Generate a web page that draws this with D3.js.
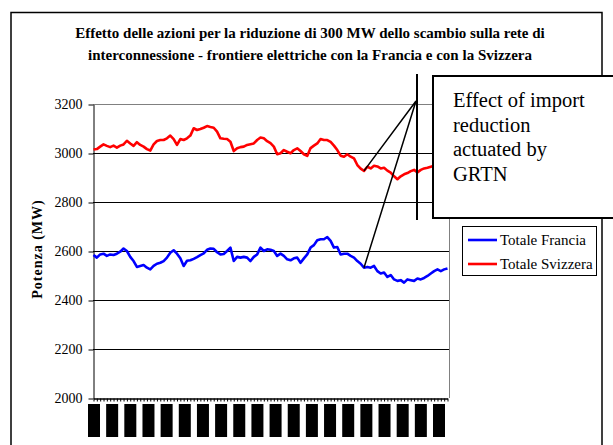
<!DOCTYPE html>
<meta charset="utf-8">
<style>

body {
  margin: 0;
  background: #fff;
}

text {
  font-family: "Liberation Serif", "Times New Roman", serif;
}

</style>
<svg id="chart" width="613" height="445"></svg>
<script src="https://d3js.org/d3.v7.min.js"></script>
<script>

// Readings, one value every ~3.3 px of the time axis.
var francia = [
  2584, 2573, 2586, 2589, 2580, 2586, 2584, 2589, 2597, 2610, 2600, 2576, 2559, 2535, 2539, 2543, 2532, 2525, 2539, 2548, 2552, 2559, 2573, 2593, 2603, 2589, 2570,
  2539, 2560, 2562, 2568, 2575, 2583, 2590, 2605, 2610, 2609, 2595, 2586, 2588, 2600, 2614, 2559, 2576, 2573, 2576, 2573, 2559, 2576, 2586, 2614, 2600, 2607, 2605,
  2600, 2580, 2589, 2580, 2566, 2562, 2570, 2573, 2552, 2570, 2586, 2614, 2624, 2644, 2648, 2648, 2657, 2641, 2614, 2616, 2586, 2589, 2589, 2580, 2573, 2559, 2548,
  2532, 2535, 2532, 2539, 2518, 2508, 2512, 2494, 2502, 2484, 2478, 2481, 2471, 2484, 2481, 2478, 2488, 2484, 2490, 2498, 2508, 2518, 2525, 2518, 2525, 2529
];

var svizzera = [
  3014, 3016, 3026, 3035, 3029, 3024, 3030, 3022, 3030, 3035, 3050, 3039, 3029, 3044, 3033, 3026, 3016, 3010, 3035, 3049, 3053, 3053, 3060, 3071, 3057, 3033, 3057,
  3053, 3060, 3071, 3101, 3094, 3098, 3103, 3110, 3106, 3103, 3087, 3060, 3058, 3057, 3046, 3008, 3019, 3024, 3026, 3033, 3036, 3039, 3053, 3063, 3060, 3048, 3040,
  3026, 2995, 2999, 3012, 3005, 2999, 3012, 3019, 3008, 2995, 2988, 3020, 3030, 3039, 3057, 3053, 3053, 3045, 3030, 3012, 2989, 2985, 2995, 2985, 2978, 2951, 2936,
  2927, 2944, 2937, 2948, 2945, 2937, 2940, 2928, 2920, 2905, 2893, 2905, 2913, 2918, 2926, 2931, 2921, 2931, 2937, 2940, 2944, 2948, 2945, 2950, 2948, 2952
];

var yTicks = [2000, 2200, 2400, 2600, 2800, 3000, 3200];

// The time labels under the axis print as solid black blocks, 20 of them.
var xLabelSlots = d3.range(20);

var titleLines = [
  "Effetto delle azioni per la riduzione di 300 MW dello scambio sulla rete di",
  "interconnessione - frontiere elettriche con la Francia e con la Svizzera"
];

var calloutLines = ["Effect of import", "reduction", "actuated by", "GRTN"];

var series = [
  {name: "Totale Francia", values: francia, color: "#0000ff"},
  {name: "Totale Svizzera", values: svizzera, color: "#ff0000"}
];

var svg = d3.select("svg"),
    plot = {left: 93, right: 449, top: 104, bottom: 398};

// outer chart frame
svg.append("rect")
    .attr("x", 11)
    .attr("y", 12.5)
    .attr("width", 591)
    .attr("height", 460)
    .attr("fill", "#fff")
    .attr("stroke", "#000")
    .attr("stroke-width", 1.5);

svg.selectAll(".title")
  .data(titleLines)
  .enter().append("text")
    .attr("class", "title")
    .attr("x", 310)
    .attr("y", function(d, i) { return 38 + i * 22; })
    .attr("text-anchor", "middle")
    .attr("font-size", 15)
    .attr("font-weight", "bold")
    .text(function(d) { return d; });

var n = francia.length;

var x = d3.scaleLinear()
    .domain([0, n - 1])
    .range([plot.left + 0.5, plot.right - 1.5]);

var y = d3.scaleLinear()
    .domain([2000, 3200])
    .range([plot.bottom, plot.top]);

// gridlines
svg.append("g")
  .selectAll("line")
  .data(yTicks.slice(1))
  .enter().append("line")
    .attr("x1", plot.left)
    .attr("x2", plot.right)
    .attr("y1", function(d) { return Math.round(y(d)) + 0.5; })
    .attr("y2", function(d) { return Math.round(y(d)) + 0.5; })
    .attr("stroke", function(d) { return d === 3200 ? "#808080" : "#000"; })
    .attr("stroke-width", 1);

// plot area right edge
svg.append("line")
    .attr("x1", plot.right + 0.5)
    .attr("x2", plot.right + 0.5)
    .attr("y1", plot.top)
    .attr("y2", plot.bottom)
    .attr("stroke", "#808080");

// y axis
svg.append("g")
    .attr("transform", "translate(" + (plot.left + 0.5) + ",0.5)")
    .call(d3.axisLeft(y)
        .tickValues(yTicks)
        .tickFormat(d3.format("d"))
        .tickSize(5)
        .tickPadding(6)
        .tickSizeOuter(0))
    .call(function(g) {
      g.attr("font-family", null);
      g.selectAll("text")
          .attr("font-size", 14)
          .attr("fill", "#000");
    });

svg.append("text")
    .attr("transform", "translate(42,249) rotate(-90)")
    .attr("text-anchor", "middle")
    .attr("font-size", 14)
    .attr("font-weight", "bold")
    .attr("letter-spacing", 1)
    .text("Potenza (MW)");

// x axis: dense minor ticks, no readable labels
svg.append("g")
    .attr("transform", "translate(0," + (plot.bottom + 0.5) + ")")
    .call(d3.axisBottom(x)
        .tickValues(d3.range(n))
        .tickSize(3)
        .tickFormat("")
        .tickSizeOuter(0))
    .call(function(g) { g.select(".domain").attr("stroke-width", 1.5); });

var slot = d3.scalePoint()
    .domain(xLabelSlots)
    .range([94, 439]);

svg.append("g")
  .selectAll("rect")
  .data(xLabelSlots)
  .enter().append("rect")
    .attr("x", function(d) { return slot(d) - 6; })
    .attr("y", 404)
    .attr("width", 12)
    .attr("height", 33)
    .attr("fill", "#000");

var line = d3.line()
    .x(function(d, i) { return x(i); })
    .y(function(d) { return y(d); });

svg.append("g")
  .selectAll("path")
  .data(series)
  .enter().append("path")
    .attr("d", function(d) { return line(d.values); })
    .attr("fill", "none")
    .attr("stroke", function(d) { return d.color; })
    .attr("stroke-width", 2.6)
    .attr("stroke-linejoin", "round");

// callout
svg.append("rect")
    .attr("x", 433)
    .attr("y", 76)
    .attr("width", 200)
    .attr("height", 142)
    .attr("fill", "#fff")
    .attr("stroke", "#000")
    .attr("stroke-width", 2);

svg.selectAll(".callout")
  .data(calloutLines)
  .enter().append("text")
    .attr("class", "callout")
    .attr("x", 453)
    .attr("y", function(d, i) { return 107 + i * 24.5; })
    .attr("font-size", 20.5)
    .text(function(d) { return d; });

var pointer = svg.append("g")
    .attr("stroke", "#000")
    .attr("fill", "none");

pointer.append("line")
    .attr("x1", 417).attr("y1", 74)
    .attr("x2", 417).attr("y2", 220)
    .attr("stroke-width", 2);

pointer.append("path")
    .attr("d", "M" + x(81) + "," + y(svizzera[81]) + "L416,101L" + x(81) + "," + y(francia[81]))
    .attr("stroke-width", 1.5);

// legend
var legend = svg.append("g")
    .attr("transform", "translate(462,226)");

legend.append("rect")
    .attr("x", 0.5)
    .attr("y", 0.5)
    .attr("width", 134)
    .attr("height", 49)
    .attr("fill", "#fff")
    .attr("stroke", "#000");

var item = legend.selectAll(".item")
  .data(series)
  .enter().append("g")
    .attr("class", "item")
    .attr("transform", function(d, i) { return "translate(0," + (14 + i * 24) + ")"; });

item.append("line")
    .attr("x1", 6)
    .attr("x2", 35)
    .attr("stroke", function(d) { return d.color; })
    .attr("stroke-width", 2.6);

item.append("text")
    .attr("x", 38)
    .attr("y", 5)
    .attr("font-size", 15)
    .text(function(d) { return d.name; });

</script>
